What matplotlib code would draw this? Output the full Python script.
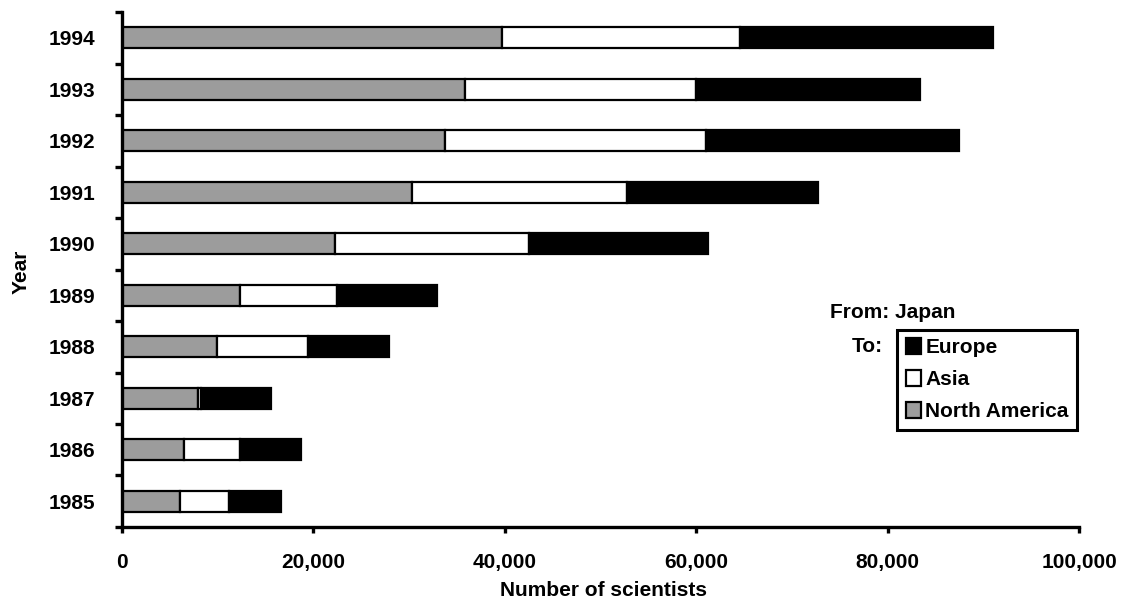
import numpy as np
import matplotlib.pyplot as plt
from matplotlib.ticker import FuncFormatter

plt.rcParams['font.family'] = ['Liberation Sans', 'DejaVu Sans']
plt.rcParams['font.weight'] = 'bold'

years = ['1985', '1986', '1987', '1988', '1989', '1990', '1991', '1992', '1993', '1994']
# cumulative ends (thousands), converted to segments below
north_america = [6.1, 6.5, 8.0, 10.0, 12.4, 22.3, 30.3, 33.8, 35.8, 39.7]
na_asia_end = [11.2, 12.3, 8.3, 19.5, 22.5, 42.5, 52.8, 61.0, 60.0, 64.6]
total_end = [16.6, 18.7, 15.6, 27.9, 32.9, 61.2, 72.7, 87.4, 83.4, 91.0]

na = np.array(north_america) * 1000
asia = (np.array(na_asia_end) - np.array(north_america)) * 1000
europe = (np.array(total_end) - np.array(na_asia_end)) * 1000

fig = plt.figure(figsize=(11.25, 6.13), dpi=100)
ax = fig.add_axes([0.1082, 0.1403, 0.8512, 0.8401])

y = np.arange(len(years))
h = 0.4
b_na = ax.barh(y, na, height=h, color='#9c9c9c', edgecolor='black', linewidth=1.6, label='North America')
b_as = ax.barh(y, asia, left=na, height=h, color='white', edgecolor='black', linewidth=1.6, label='Asia')
b_eu = ax.barh(y, europe, left=na + asia, height=h, color='black', edgecolor='black', linewidth=1.6, label='Europe')

ax.set_xlim(0, 100000)
ax.set_ylim(-0.5, len(years) - 0.5)
ax.set_xticks(np.arange(0, 100001, 20000))
ax.xaxis.set_major_formatter(FuncFormatter(lambda v, p: f'{int(v):,}'))
ax.set_yticks(y)
ax.set_yticklabels(years)
ax.set_yticks(np.arange(-0.5, len(years), 1.0), minor=True)

for s in ['top', 'right']:
    ax.spines[s].set_visible(False)
for s in ['left', 'bottom']:
    ax.spines[s].set_linewidth(2.4)

fs = 15
ax.tick_params(axis='y', which='major', length=0, pad=19, labelsize=fs)
ax.tick_params(axis='y', which='minor', length=5, width=2.4, direction='out')
ax.tick_params(axis='x', which='major', length=4, width=2.4, direction='out', pad=15, labelsize=fs)

fig.text(604 / 1125, 1 - 590 / 613, 'Number of scientists', ha='center', va='center', fontsize=fs, fontweight='bold')
fig.text(21 / 1125, 1 - 272 / 613, 'Year', ha='center', va='center', rotation=90, fontsize=fs, fontweight='bold')

leg = ax.legend(handles=[b_eu, b_as, b_na], loc='upper right',
                bbox_to_anchor=(1077 / 1125, 1 - 330 / 613), bbox_transform=fig.transFigure,
                borderaxespad=0, fancybox=False, edgecolor='black', framealpha=1,
                handlelength=0.75, handleheight=0.75, handletextpad=0.2,
                borderpad=0.4, labelspacing=0.62, prop={'size': fs, 'weight': 'bold'})
leg.get_frame().set_linewidth(2.2)

fig.text(830 / 1125, 1 - 313 / 613, 'From: Japan', ha='left', va='center', fontsize=fs, fontweight='bold')
fig.text(883 / 1125, 1 - 347 / 613, 'To:', ha='right', va='center', fontsize=fs, fontweight='bold')

fig.savefig('out.png', dpi=100)
